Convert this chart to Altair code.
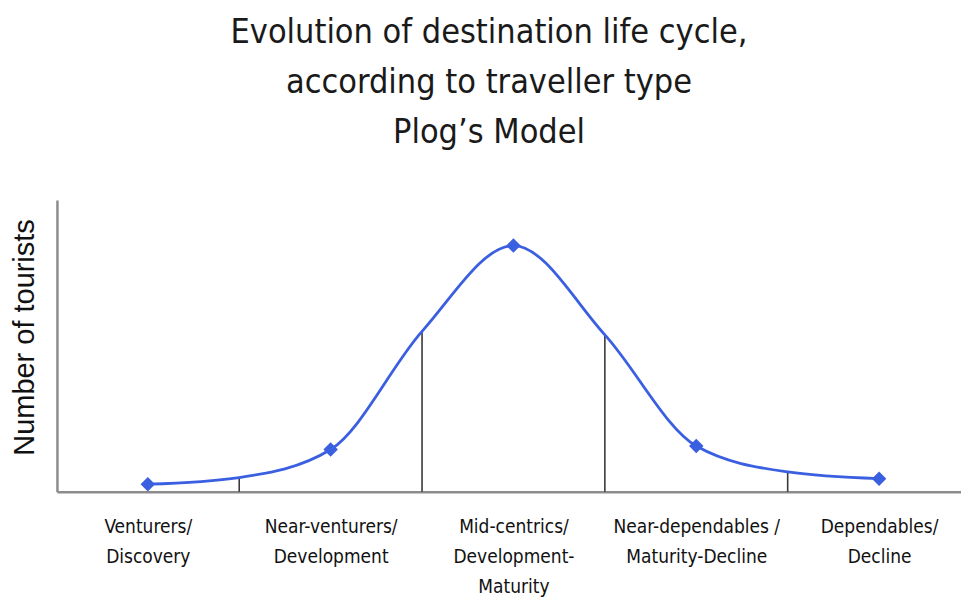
import altair as alt
import pandas as pd

# Categories (traveller type / life-cycle stage)
categories = [
    ["Venturers/", "Discovery"],
    ["Near-venturers/", "Development"],
    ["Mid-centrics/", "Development-", "Maturity"],
    ["Near-dependables /", "Maturity-Decline"],
    ["Dependables/", "Decline"],
]
cat_pos = [0, 1, 2, 3, 4]
cat_values = [2.6, 14.5, 84.4, 15.7, 4.5]

# Stage boundaries (vertical dividers) and curve height there
bound_pos = [0.5, 1.5, 2.5, 3.5]
bound_values = [4.9, 55.0, 53.8, 6.8]

title_lines = ["Evolution of destination life cycle,", "according to traveller type", "Plog\u2019s Model"]
y_title = "Number of tourists"

curve = pd.DataFrame({
    "x": cat_pos + bound_pos,
    "y": cat_values + bound_values,
}).sort_values("x")
points = pd.DataFrame({"x": cat_pos, "y": cat_values})
bounds = pd.DataFrame({"x": bound_pos, "y": bound_values, "y0": [0] * len(bound_pos)})

BLUE = "#3a5fe0"
NARROW = "Liberation Sans Narrow, DejaVu Sans Condensed, sans-serif"

label_expr = "[" + ",".join(
    "[" + ",".join("'" + s + "'" for s in lab) + "]" for lab in categories
) + "][datum.value]"

xscale = alt.Scale(domain=[-0.497, 4.448], nice=False, zero=False)
yscale = alt.Scale(domain=[0, 100], nice=False)

xaxis = alt.Axis(
    values=cat_pos, labelExpr=label_expr, title=None, ticks=False, grid=False,
    domainColor="#8c8c8c", domainWidth=2.5, labelFont=NARROW, labelFontSize=19,
    labelColor="#111111", labelPadding=26, labelLineHeight=30, labelAngle=0,
    labelBaseline="top", labelOverlap=False, labelFlush=False, labelLimit=400,
)
yaxis = alt.Axis(
    title=y_title, labels=False, ticks=False, grid=False, domainColor="#8c8c8c",
    domainWidth=2.5, titleFont="Liberation Sans, sans-serif", titleFontSize=29,
    titleFontWeight="normal", titleColor="#111111", titlePadding=17, titleY=137,
)

line = alt.Chart(curve).mark_line(interpolate="monotone", color=BLUE, strokeWidth=2.8).encode(
    x=alt.X("x:Q", scale=xscale, axis=xaxis),
    y=alt.Y("y:Q", scale=yscale, axis=yaxis),
    order="x:Q",
)
rules = alt.Chart(bounds).mark_rule(color="#3a3a3a", strokeWidth=1.6).encode(
    x=alt.X("x:Q", scale=xscale, axis=xaxis),
    y=alt.Y("y0:Q", scale=yscale, axis=yaxis),
    y2="y:Q",
)
pts = alt.Chart(points).mark_point(shape="diamond", filled=True, size=210, color=BLUE, opacity=1).encode(
    x=alt.X("x:Q", scale=xscale, axis=xaxis),
    y=alt.Y("y:Q", scale=yscale, axis=yaxis),
)

chart = alt.layer(rules, line, pts).properties(
    width=905, height=292,
    background="white",
    title=alt.TitleParams(
        text=title_lines, font=NARROW, fontSize=34, fontWeight="normal",
        color="#1a1a1a", lineHeight=50, anchor="middle", dx=-20, offset=50,
    ),
    autosize=alt.AutoSizeParams(type="none"),
    padding={"left": 49, "top": 192, "right": 0, "bottom": 107},
).configure_view(stroke=None)

chart.save("out.html", embed_options={"renderer": "svg", "actions": False})
